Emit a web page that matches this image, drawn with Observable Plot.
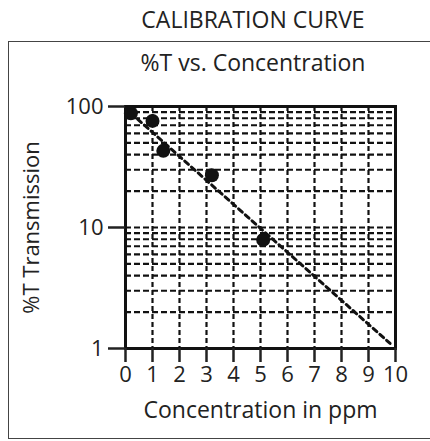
<!DOCTYPE html>
<html>
<head>
<meta charset="utf-8">
<script src="https://cdn.jsdelivr.net/npm/d3@7"></script>
<script src="https://cdn.jsdelivr.net/npm/@observablehq/plot@0.6"></script>
<style>
  body { margin: 0; background: #fff; }
  #wrap { position: relative; width: 430px; height: 441px; overflow: hidden; font-family: "Open Sans", "Lato", sans-serif; color: #222; }
  #title { position: absolute; left: 0; width: 506px; top: 5px; text-align: center; font-size: 23px; line-height: 28px; }
  #box { position: absolute; left: 8px; top: 41px; width: 440px; height: 396px; border: 1.5px solid #444; }
  #subtitle { position: absolute; left: 0; width: 506px; top: 47px; text-align: center; font-size: 23px; line-height: 30px; }
  #chart { position: absolute; left: 0; top: 0; }
</style>
</head>
<body>
<div id="wrap">
  <div id="title">CALIBRATION CURVE</div>
  <div id="box"></div>
  <div id="subtitle">%T vs. Concentration</div>
  <div id="chart"></div>
</div>
<script>
const concentration = [0.2, 1.0, 1.4, 3.2, 5.1];
const transmission = [88, 76, 43, 27, 7.9];
const trendX = [0.2, 9.8];
const trendY = [88, 1.1];
const xTicks = [0, 1, 2, 3, 4, 5, 6, 7, 8, 9, 10];
const yTicks = [1, 10, 100];
const xGrid = [1, 2, 3, 4, 5, 6, 7, 8, 9];
const yGrid = [2, 3, 4, 5, 6, 7, 8, 9, 10, 20, 30, 40, 50, 60, 70, 80, 90];

const points = concentration.map((c, i) => ({c, t: transmission[i]}));
const trend = trendX.map((c, i) => ({c, t: trendY[i]}));

const plot = Plot.plot({
  width: 430,
  height: 441,
  marginLeft: 125,
  marginRight: 35,
  marginTop: 106,
  marginBottom: 93,
  style: {background: "transparent", fontFamily: "'Open Sans', Lato, sans-serif", color: "#222"},
  x: {domain: [0, 10]},
  y: {type: "log", domain: [1, 100]},
  marks: [
    Plot.ruleX(xGrid, {x: d => d, stroke: "#111", strokeWidth: 2.2, strokeDasharray: "5,3"}),
    Plot.ruleY(yGrid, {y: d => d, stroke: "#111", strokeWidth: 2.2, strokeDasharray: "6,3"}),
    Plot.line(trend, {x: "c", y: "t", stroke: "#111", strokeWidth: 3, strokeDasharray: "5,4"}),
    Plot.dot(points, {x: "c", y: "t", r: 7, fill: "#111", stroke: "none"}),
    Plot.frame({stroke: "#111", strokeWidth: 3}),
    Plot.axisX(xTicks, {tickSize: 14, tickPadding: 4, strokeWidth: 2.5, fontSize: 22, label: null, tickFormat: d => d, fill: "#222"}),
    Plot.axisY(yTicks, {tickSize: 17, tickPadding: 5, strokeWidth: 2.5, fontSize: 22, label: null, tickFormat: d => d, fill: "#222"}),
    Plot.text(["Concentration in ppm"], {frameAnchor: "bottom", dy: 69, fontSize: 23, fill: "#222"}),
    Plot.text(["%T Transmission"], {frameAnchor: "left", textAnchor: "middle", dx: -94, rotate: -90, fontSize: 22, fill: "#222"})
  ]
});
document.getElementById("chart").appendChild(plot);
</script>
</body>
</html>
